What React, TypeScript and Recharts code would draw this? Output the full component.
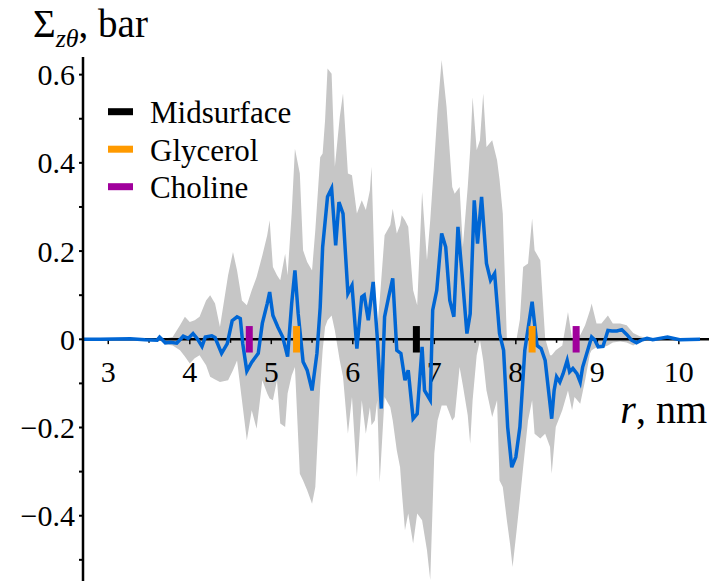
import { ComposedChart, Area, Line, XAxis, YAxis, ReferenceLine } from 'recharts'

const FONT = '"Liberation Serif", "Times New Roman", serif'

// mean stress profile, r in nm, sigma in bar
const meanR = [
  2.69, 2.9, 3.27, 3.45, 3.6, 3.63, 3.7, 3.76, 3.84, 3.92, 3.98, 4.04, 4.09, 4.15, 4.19, 4.27, 4.31, 4.39, 4.46,
  4.52, 4.58, 4.62, 4.65, 4.7, 4.76, 4.84, 4.89, 4.95, 4.98, 5.02, 5.08, 5.14, 5.2, 5.25, 5.29, 5.33, 5.39, 5.44,
  5.5, 5.56, 5.6, 5.63, 5.69, 5.74, 5.79, 5.83, 5.88, 5.94, 5.99, 6.05, 6.11, 6.14, 6.19, 6.25, 6.3, 6.35, 6.39,
  6.44, 6.49, 6.54, 6.59, 6.64, 6.68, 6.74, 6.79, 6.85, 6.88, 6.95, 6.98, 7.03, 7.09, 7.14, 7.19, 7.24, 7.29, 7.34,
  7.4, 7.44, 7.49, 7.53, 7.58, 7.64, 7.69, 7.74, 7.8, 7.85, 7.9, 7.95, 8.0, 8.05, 8.11, 8.2, 8.26, 8.31, 8.36, 8.44,
  8.47, 8.5, 8.54, 8.58, 8.63, 8.66, 8.7, 8.75, 8.79, 8.82, 8.87, 8.93, 8.97, 9.01, 9.07, 9.13, 9.18, 9.24, 9.3,
  9.36, 9.42, 9.48, 9.54, 9.61, 9.68, 9.86, 10.01, 10.26,
]
const meanSigma = [
  0, 0, 0.001, -0.001, -0.002, 0.005, -0.008, -0.007, -0.009, 0.007, 0.002, 0.013, 0.002, -0.016, 0.005, 0.008, 0.004,
  -0.032, -0.01, 0.042, 0.051, 0.047, -0.01, -0.072, -0.052, -0.032, 0.036, 0.081, 0.107, 0.054, 0.028, 0.005, -0.039,
  0.081, 0.156, 0.058, -0.051, -0.07, -0.116, -0.032, 0.073, 0.209, 0.323, 0.342, 0.213, 0.311, 0.285, 0.104, 0.122,
  -0.021, 0.096, 0.1, 0.043, 0.13, 0.005, -0.157, 0.051, 0.096, 0.138, -0.025, -0.032, -0.093, -0.07, -0.18, -0.169,
  -0.017, -0.116, -0.138, 0.066, 0.111, 0.24, 0.209, 0.088, 0.051, 0.255, 0.149, 0.013, 0.058, 0.315, 0.217, 0.323,
  0.172, 0.134, 0.149, 0.013, -0.025, -0.199, -0.29, -0.267, -0.199, -0.025, 0.085, -0.014, -0.021, -0.048, -0.18,
  -0.116, -0.085, -0.097, -0.078, -0.048, -0.074, -0.066, -0.078, -0.097, -0.063, -0.032, 0.005, -0.002, -0.017,
  -0.016, 0.02, 0.019, 0.019, 0.022, 0.011, -0.002, -0.008, -0.002, 0.002, -0.001, 0.005, -0.001, 0,
]

// spread band (grey)
const bandR = [
  2.69, 3.63, 3.7, 3.79, 3.88, 3.94, 4.0, 4.06, 4.12, 4.2, 4.25, 4.31, 4.37, 4.47, 4.53, 4.58, 4.64, 4.7, 4.76, 4.82,
  4.89, 4.95, 4.98, 5.02, 5.07, 5.11, 5.17, 5.2, 5.25, 5.29, 5.35, 5.39, 5.44, 5.5, 5.54, 5.6, 5.63, 5.66, 5.69,
  5.74, 5.78, 5.84, 5.88, 5.94, 5.99, 6.05, 6.11, 6.16, 6.21, 6.23, 6.27, 6.3, 6.33, 6.39, 6.46, 6.49, 6.54, 6.58,
  6.6, 6.64, 6.68, 6.74, 6.79, 6.85, 6.91, 6.95, 7.0, 7.04, 7.09, 7.15, 7.22, 7.25, 7.31, 7.35, 7.41, 7.44, 7.47,
  7.52, 7.56, 7.6, 7.64, 7.71, 7.77, 7.8, 7.84, 7.89, 7.93, 7.96, 8.01, 8.05, 8.09, 8.15, 8.2, 8.23, 8.3, 8.36,
  8.42, 8.44, 8.49, 8.57, 8.64, 8.69, 8.72, 8.79, 8.85, 8.91, 8.93, 8.99, 9.05, 9.13, 9.19, 9.28, 9.36, 9.44, 9.52,
  9.64, 10.26,
]
const bandLo = [
  0, -0.001, -0.011, -0.014, -0.025, -0.039, -0.055, -0.043, -0.036, -0.059, -0.085, -0.091, -0.097, -0.093, -0.07,
  -0.048, -0.138, -0.229, -0.161, -0.203, -0.093, -0.123, -0.134, -0.138, -0.093, -0.191, -0.199, -0.123, -0.082,
  -0.063, -0.305, -0.32, -0.342, -0.373, -0.335, -0.108, -0.025, 0.028, 0.043, 0.054, 0.02, -0.048, -0.085, -0.214,
  -0.131, -0.312, -0.138, -0.214, -0.154, -0.195, -0.184, -0.138, -0.324, -0.131, -0.154, -0.184, -0.252, -0.29,
  -0.342, -0.433, -0.395, -0.463, -0.395, -0.41, -0.478, -0.546, -0.259, -0.184, -0.15, -0.15, -0.184, -0.176,
  -0.063, -0.104, -0.172, -0.237, -0.138, -0.036, -0.002, -0.048, -0.116, -0.176, -0.138, -0.32, -0.335, -0.41,
  -0.465, -0.516, -0.433, -0.363, -0.29, -0.184, -0.138, -0.214, -0.225, -0.214, -0.244, -0.305, -0.199, -0.161,
  -0.116, -0.161, -0.131, -0.146, -0.093, -0.032, -0.025, -0.018, -0.02, -0.014, -0.007, -0.005, -0.007, -0.014,
  -0.006, -0.002, 0,
]
const bandHi = [
  0, 0.001, 0.002, 0.005, 0.032, 0.051, 0.039, 0.043, 0.051, 0.088, 0.1, 0.081, 0.028, 0.145, 0.198, 0.156, 0.088,
  0.077, 0.111, 0.141, 0.19, 0.236, 0.27, 0.164, 0.145, 0.134, 0.194, 0.145, 0.285, 0.432, 0.376, 0.202, 0.175,
  0.156, 0.247, 0.413, 0.421, 0.497, 0.614, 0.602, 0.391, 0.504, 0.557, 0.376, 0.372, 0.285, 0.315, 0.293, 0.338,
  0.391, 0.134, 0.028, 0.088, 0.236, 0.259, 0.296, 0.24, 0.259, 0.281, 0.27, 0.255, 0.111, 0.077, 0.334, 0.179,
  0.27, 0.406, 0.519, 0.633, 0.527, 0.345, 0.33, 0.345, 0.209, 0.345, 0.429, 0.549, 0.429, 0.451, 0.557, 0.436,
  0.451, 0.406, 0.363, 0.285, 0.002, -0.002, -0.002, 0.002, 0.045, 0.164, 0.172, 0.274, 0.202, 0.179, 0.002,
  -0.036, -0.036, -0.025, -0.014, 0.062, 0.002, 0.002, 0.009, 0.032, 0.066, 0.081, 0.036, 0.036, 0.054, 0.036,
  0.036, 0.032, 0.014, 0.007, 0.002, 0,
]

// membrane markers on the r axis
const markerR = [4.73, 5.31, 6.78, 8.2, 8.74]
const markerColor = ['#a0009c', '#ff9a00', '#000000', '#ff9a00', '#a0009c']
const legendNames = ['Midsurface', 'Glycerol', 'Choline']
const legendColors = ['#000000', '#ff9a00', '#a0009c']

const xMajor = [3, 4, 5, 6, 7, 8, 9, 10]
const xMinor = [3.5, 4.5, 5.5, 6.5, 7.5, 8.5, 9.5]
const yTicks = [-0.5, -0.4, -0.3, -0.2, -0.1, 0, 0.1, 0.2, 0.3, 0.4, 0.5, 0.6]

const bandData = bandR.map((r, i) => ({ r, band: [bandLo[i], bandHi[i]] }))
const meanData = meanR.map((r, i) => ({ r, sigma: meanSigma[i] }))

const serif = { fontFamily: FONT }

const renderYTick = (props: any) => {
  const { x, y, payload } = props
  const v = payload.value
  const step = Math.round(v * 10)
  if (step % 2 !== 0) return <g />
  const txt = step === 0 ? '0' : (v < 0 ? '\u2212' : '') + Math.abs(v).toFixed(1)
  return (
    <text x={x} y={y} dy="0.35em" textAnchor="end" fontSize={30} style={serif} fill="#000">
      {txt}
    </text>
  )
}

// x tick label under the y = 0 axis line
const xTickLabel = (t: number) => (props: any) => {
  const vb = props.viewBox || {}
  return (
    <text x={vb.x + (vb.width || 0) / 2} y={vb.y + (vb.height || 0) + 38} textAnchor="middle" fontSize={30} style={serif} fill="#000">
      {t}
    </text>
  )
}

export default function App() {
  return (
    <div style={{ position: 'absolute', left: 0, top: 0, width: 709, height: 581, fontFamily: FONT, background: '#fff' }}>
      <style>{`.recharts-wrapper text { font-family: ${FONT} !important; }`}</style>
      <ComposedChart width={709} height={581} margin={{ top: 57, right: 0, bottom: 0, left: 0 }}>
        <XAxis type="number" dataKey="r" domain={[2.69, 10.37]} allowDataOverflow hide />
        <YAxis
          type="number"
          domain={[-0.548, 0.64]}
          ticks={yTicks}
          interval={0}
          allowDataOverflow
          width={83}
          axisLine={{ stroke: '#000', strokeWidth: 2.5 }}
          tickLine={{ stroke: '#000', strokeWidth: 2 }}
          tickSize={4}
          tickMargin={4}
          tick={renderYTick}
        />
        <Area data={bandData} dataKey="band" type="linear" stroke="none" fill="#c6c6c6" fillOpacity={1} isAnimationActive={false} />
        <ReferenceLine y={0} stroke="#000" strokeWidth={2.5} />
        {xMinor.map((t) => (
          <ReferenceLine key={'m' + t} segment={[{ x: t, y: 0 }, { x: t, y: -0.008 }]} stroke="#000" strokeWidth={1.5} />
        ))}
        {xMajor.map((t) => (
          <ReferenceLine
            key={'M' + t}
            segment={[{ x: t, y: 0 }, { x: t, y: -0.011 }]}
            stroke="#000"
            strokeWidth={1.5}
            label={xTickLabel(t)}
          />
        ))}
        <Line data={meanData} dataKey="sigma" type="linear" stroke="#0066d4" strokeWidth={3.5} dot={false} isAnimationActive={false} />
        {markerR.map((r, i) => (
          <ReferenceLine key={'k' + i} segment={[{ x: r, y: -0.03 }, { x: r, y: 0.03 }]} stroke={markerColor[i]} strokeWidth={7} />
        ))}
      </ComposedChart>
      <svg width={709} height={581} style={{ position: 'absolute', left: 0, top: 0, pointerEvents: 'none' }}>
        <text x={33} y={37} fontSize={39} fill="#000">
          Σ
          <tspan fontSize={26} fontStyle="italic" dy={10}>zθ</tspan>
          <tspan dy={-10}>, bar</tspan>
        </text>
        <text x={707} y={423} textAnchor="end" fontSize={40} fill="#000">
          <tspan fontStyle="italic">r</tspan>, nm
        </text>
        {legendNames.map((name, i) => (
          <g key={name}>
            <line x1={108} x2={133} y1={111.7 + i * 37.5} y2={111.7 + i * 37.5} stroke={legendColors[i]} strokeWidth={7} />
            <text x={150} y={123.3 + i * 37.5} fontSize={31} fill="#000">
              {name}
            </text>
          </g>
        ))}
      </svg>
    </div>
  )
}
